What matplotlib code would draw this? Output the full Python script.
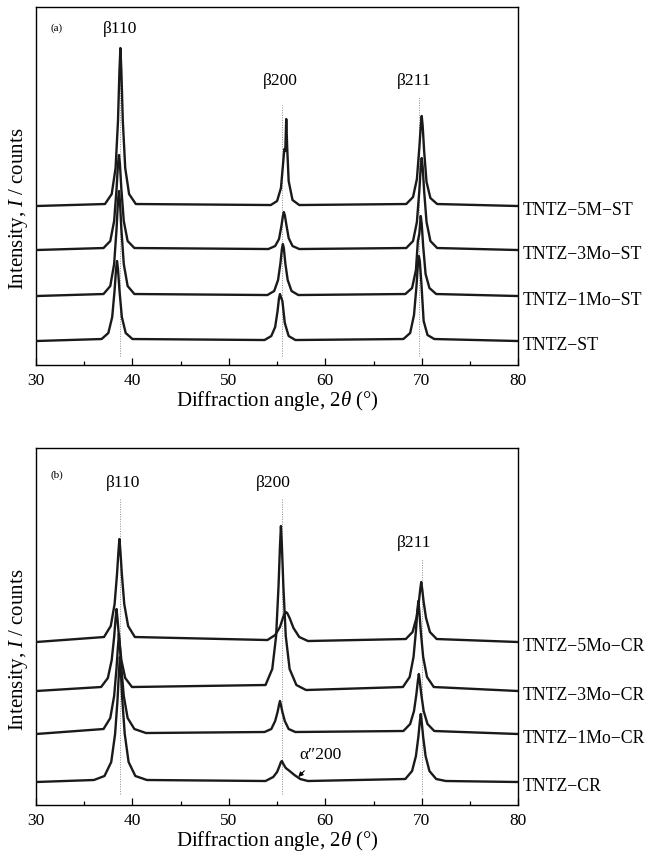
import matplotlib.pyplot as plt
from matplotlib.ticker import MultipleLocator

plt.rcParams["font.family"] = ["Liberation Serif", "DejaVu Serif"]
plt.rcParams["mathtext.fontset"] = "custom"
plt.rcParams["mathtext.rm"] = "Liberation Serif"
plt.rcParams["mathtext.it"] = "Liberation Serif:italic"

# ------------------------------------------------------------
# (a) solution treated, 2theta (deg) vs intensity above background
# ------------------------------------------------------------
tt_st = [30, 36.8, 37.5, 37.9, 38.15, 38.3, 38.4, 38.5, 38.65, 38.9, 39.3, 40.0,
         53.7, 54.4, 54.8, 55.05, 55.2, 55.3, 55.4, 55.55, 55.8, 56.2, 56.9,
         68.1, 68.8, 69.2, 69.45, 69.6, 69.7, 69.8, 69.95, 70.2, 70.6, 71.3, 80]
i_st = [0, 2, 8, 24, 51, 72, 80, 72, 51, 24, 8, 2,
        1, 5, 14, 30, 43, 47, 44, 40, 18, 5, 1,
        2, 8, 26, 54, 76, 85, 80, 60, 20, 6, 2, 0]

tt_1mo_st = [30, 37.0, 37.7, 38.1, 38.35, 38.5, 38.6, 38.7, 38.85, 39.1, 39.5, 40.2,
             54.0, 54.7, 55.1, 55.35, 55.5, 55.6, 55.7, 55.85, 56.1, 56.5, 57.2,
             68.3, 69.0, 69.4, 69.6, 69.75, 69.9, 70.0, 70.15, 70.4, 70.8, 71.5, 80]
i_1mo_st = [0, 2, 10, 32, 67, 95, 105, 95, 67, 32, 10, 2,
            1, 5, 16, 33, 47, 52, 48, 33, 16, 5, 1,
            2, 8, 26, 55, 62, 80, 72, 50, 22, 8, 2, 0]

tt_3mo_st = [30, 37.0, 37.7, 38.1, 38.35, 38.5, 38.6, 38.7, 38.85, 39.1, 39.5, 40.2,
             54.1, 54.8, 55.2, 55.45, 55.6, 55.7, 55.8, 55.95, 56.2, 56.6, 57.3,
             68.4, 69.1, 69.5, 69.75, 69.9, 70.0, 70.1, 70.25, 70.5, 70.9, 71.6, 80]
i_3mo_st = [0, 2, 9, 29, 61, 86, 95, 86, 61, 29, 9, 2,
            1, 4, 11, 24, 34, 38, 35, 26, 12, 4, 1,
            2, 9, 28, 59, 83, 92, 83, 59, 28, 9, 2, 0]

tt_5m_st = [30, 37.15, 37.85, 38.25, 38.5, 38.65, 38.75, 38.85, 39.0, 39.25, 39.65, 40.35,
            54.35, 55.0, 55.4, 55.6, 55.75, 55.85, 55.95, 56.05, 56.2, 56.6, 57.3,
            68.4, 69.1, 69.5, 69.75, 69.9, 70.0, 70.1, 70.25, 70.5, 70.9, 71.6, 80]
i_5m_st = [0, 2, 12, 38, 85, 135, 158, 135, 85, 38, 12, 2,
           1, 5, 18, 40, 57, 55, 87, 58, 25, 6, 1,
           2, 9, 27, 58, 80, 90, 80, 55, 24, 8, 2, 0]

# ------------------------------------------------------------
# (b) cold rolled
# ------------------------------------------------------------
tt_cr = [30, 36.0, 37.1, 37.8, 38.2, 38.45, 38.6, 38.7, 38.8, 38.95, 39.2, 39.6, 40.3, 41.5,
         53.8, 54.6, 55.0, 55.25, 55.4, 55.5, 55.65, 55.9, 56.3, 56.8, 57.4, 58.2,
         68.3, 69.0, 69.4, 69.65, 69.8, 69.9, 70.0, 70.15, 70.4, 70.8, 71.5, 72.5, 80]
i_cr = [0, 2, 6, 20, 48, 82, 110, 125, 110, 82, 48, 20, 6, 2,
        1, 5, 10, 16, 20, 21, 18, 14, 11, 7, 3, 1,
        3, 11, 26, 45, 60, 68, 60, 45, 26, 11, 3, 1, 0]

tt_1mo_cr = [30, 37.0, 37.7, 38.1, 38.35, 38.5, 38.6, 38.7, 38.85, 39.1, 39.5, 40.2, 41.4,
             53.7, 54.4, 54.8, 55.05, 55.2, 55.3, 55.4, 55.55, 55.8, 56.2, 56.9,
             68.1, 68.8, 69.2, 69.45, 69.6, 69.7, 69.8, 69.95, 70.2, 70.6, 71.3, 80]
i_1mo_cr = [0, 5, 16, 38, 66, 88, 100, 88, 66, 38, 16, 5, 1,
            2, 5, 13, 22, 29, 33, 29, 22, 13, 5, 2,
            3, 10, 23, 40, 53, 60, 53, 40, 23, 10, 3, 0]

tt_3mo_cr = [30, 36.75, 37.45, 37.85, 38.1, 38.25, 38.35, 38.45, 38.6, 38.85, 39.25, 39.95,
             53.8, 54.5, 54.9, 55.15, 55.3, 55.4, 55.5, 55.65, 55.9, 56.3, 57.0, 58.0,
             68.05, 68.75, 69.15, 69.4, 69.55, 69.65, 69.75, 69.9, 70.15, 70.55, 71.25, 80]
i_3mo_cr = [0, 4, 13, 31, 54, 72, 82, 72, 54, 31, 13, 4,
            6, 22, 55, 105, 145, 165, 145, 105, 55, 22, 6, 1,
            4, 14, 34, 60, 80, 90, 80, 60, 34, 14, 4, 0]

tt_5mo_cr = [30, 37.05, 37.75, 38.15, 38.4, 38.55, 38.65, 38.75, 38.9, 39.15, 39.55, 40.25,
             54.0, 54.8, 55.3, 55.6, 55.8, 55.9, 56.05, 56.3, 56.7, 57.3, 58.2,
             68.35, 69.05, 69.45, 69.7, 69.85, 69.95, 70.05, 70.2, 70.45, 70.85, 71.55, 80]
i_5mo_cr = [0, 5, 16, 38, 68, 91, 103, 91, 68, 38, 16, 5,
            2, 7, 15, 24, 29, 30, 29, 24, 14, 5, 1,
            3, 10, 24, 40, 53, 60, 53, 40, 24, 10, 3, 0]

labels_a = ["TNTZ\u2212ST", "TNTZ\u22121Mo\u2212ST", "TNTZ\u22123Mo\u2212ST", "TNTZ\u22125M\u2212ST"]
labels_b = ["TNTZ\u2212CR", "TNTZ\u22121Mo\u2212CR", "TNTZ\u22123Mo\u2212CR", "TNTZ\u22125Mo\u2212CR"]
offsets_a = [24, 69, 115, 159]
offsets_b = [23, 71, 114, 163]

# reference beta peak positions (dotted guides) and their labels
peaks_a = [38.7, 55.5, 69.75]
peaks_b = [38.7, 55.5, 70.0]
peak_names = ["\u03b2110", "\u03b2200", "\u03b2211"]

series_a = [(tt_st, i_st), (tt_1mo_st, i_1mo_st), (tt_3mo_st, i_3mo_st), (tt_5m_st, i_5m_st)]
series_b = [(tt_cr, i_cr), (tt_1mo_cr, i_1mo_cr), (tt_3mo_cr, i_3mo_cr), (tt_5mo_cr, i_5mo_cr)]


def draw_panel(ax, series, offsets, labels, peaks, guide_spans, name_pos, tag, tag_y, ylab_y):
    # stacked patterns, each lifted by its own offset
    for (tt, counts), off in zip(series, offsets):
        ax.plot(tt, [c + off for c in counts], color="#1a1a1a", lw=1.7,
                solid_joinstyle="round", zorder=3)

    for x, (y0, y1) in zip(peaks, guide_spans):
        ax.vlines(x, y0, y1, colors="0.55", linestyles=(0, (1, 1.5)), lw=0.7, zorder=1)

    for name, (x, y) in zip(peak_names, name_pos):
        ax.text(x, y, name, ha="center", va="center", fontsize=12.5)

    trans = ax.get_yaxis_transform()
    for lab, off in zip(labels, offsets):
        ax.text(1.01, off - 3, lab, transform=trans, ha="left", va="center",
                fontsize=12.8, clip_on=False)

    ax.text(0.043, tag_y, tag, transform=ax.transAxes, ha="center", va="center", fontsize=8)

    ax.set_xlim(30, 80)
    ax.xaxis.set_major_locator(MultipleLocator(10))
    ax.xaxis.set_minor_locator(MultipleLocator(5))
    ax.tick_params(axis="x", which="both", direction="in", top=False, labelsize=12.5, pad=5)
    ax.tick_params(axis="x", which="major", length=5, width=0.9)
    ax.tick_params(axis="x", which="minor", length=3, width=0.9)
    ax.set_yticks([])
    for sp in ax.spines.values():
        sp.set_linewidth(1.0)

    ax.set_xlabel("Diffraction angle, $2\\theta$ (\u00b0)", fontsize=15, labelpad=0)
    ax.set_ylabel("Intensity, $I$ / counts", fontsize=15)
    ax.yaxis.set_label_coords(-0.012, ylab_y)


fig = plt.figure(figsize=(6.48, 8.54), dpi=100)
ax_a = fig.add_axes([0.0556, 0.5714, 0.744, 0.4192])
ax_b = fig.add_axes([0.0556, 0.0562, 0.744, 0.4180])

ax_a.set_ylim(0, 358)
ax_b.set_ylim(0, 357)

draw_panel(ax_a, series_a, offsets_a, labels_a, peaks_a,
           [(9, 300), (9, 260), (9, 268)],
           [(38.7, 337), (55.3, 285), (69.2, 285)],
           "(a)", 0.944, 0.44)
draw_panel(ax_b, series_b, offsets_b, labels_b, peaks_b,
           [(11, 306), (11, 306), (11, 246)],
           [(39.0, 323), (54.6, 323), (69.2, 263)],
           "(b)", 0.927, 0.438)

# alpha'' shoulder on the cold-rolled TNTZ trace
ax_b.annotate("\u03b1\u2033200", xy=(57.2, 28), xytext=(59.5, 51),
              ha="center", va="center", fontsize=12.5,
              arrowprops=dict(arrowstyle="-|>", color="black", lw=0.8,
                              mutation_scale=7, shrinkA=6, shrinkB=0))

fig.savefig("out.png", dpi=100)
